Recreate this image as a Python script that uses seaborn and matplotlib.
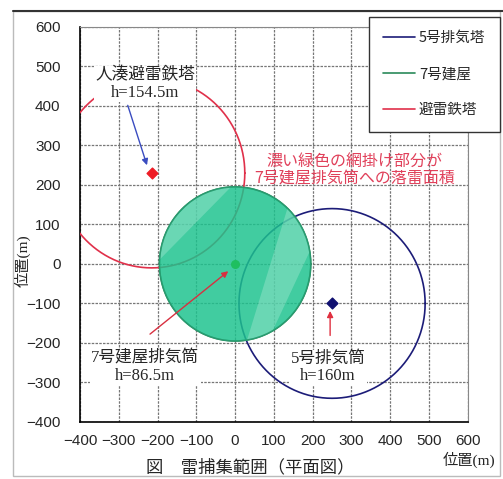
import numpy as np
import pandas as pd
import matplotlib
matplotlib.use("Agg")
import matplotlib.pyplot as plt
import seaborn as sns
from matplotlib.patches import Circle, Rectangle
from matplotlib.lines import Line2D

# data
names = ["5号排気塔", "7号建屋", "避雷鉄塔"]
center_x = [250, 0, -215]
center_y = [-100, 0, 230]
radius = [240, 195, 240]
line_colors = ["#1c1c78", "#2a8a5a", "#e0304a"]
marker_shapes = ["D", "o", "D"]
marker_colors = ["#101070", "#1fbf5f", "#ee1c25"]

ticks = [-400, -300, -200, -100, 0, 100, 200, 300, 400, 500, 600]

sns.set_style("white")
plt.rcParams["font.family"] = ["Liberation Sans", "Noto Sans CJK JP"]
serif_jp = ["Liberation Serif", "Noto Sans CJK JP"]
gothic_jp = ["Noto Sans CJK JP", "DejaVu Sans"]

fig = plt.figure(figsize=(5.03, 4.79), dpi=100)
ax = fig.add_axes([0.159, 0.119, 0.771, 0.825])

# grid at every tick
for t in ticks:
    ax.axvline(t, color="#777777", linestyle=(0, (2, 1)), linewidth=0.9, zorder=1)
    ax.axhline(t, color="#777777", linestyle=(0, (2, 1)), linewidth=0.9, zorder=1)

# outline of each capture range
rows = []
theta = np.linspace(0, 2 * np.pi, 361)
for n, cx, cy, r in zip(names, center_x, center_y, radius):
    for t in theta:
        rows.append({"x": cx + r * np.cos(t), "y": cy + r * np.sin(t), "name": n})
df = pd.DataFrame(rows)

sns.lineplot(data=df, x="x", y="y", hue="name", hue_order=names,
             palette=dict(zip(names, line_colors)), sort=False, estimator=None,
             lw=1.2, ax=ax, legend=False, zorder=3)

# green filled area for 7号建屋, laid over the outlines
g = names.index("7号建屋")
disk = Circle((center_x[g], center_y[g]), radius[g], facecolor="#1dc38e",
              alpha=0.84, edgecolor="none", zorder=4)
ax.add_patch(disk)
ax.add_patch(Circle((center_x[g], center_y[g]), radius[g], facecolor="none",
                    edgecolor="#2a9a70", lw=1.0, zorder=4.2))
# lighter stripes inside the green disk
xs = np.linspace(-250, 250, 50)
s1 = ax.fill_between(xs, xs + 208, xs + 275, color="white", alpha=0.22, lw=0, zorder=4.1)
s1.set_clip_path(disk)
ys = np.linspace(-250, 250, 50)
s2 = ax.fill_betweenx(ys, 30 + (ys + 190) / 3.2, 85 + (ys + 190) / 2.1,
                      color="white", alpha=0.22, lw=0, zorder=4.1)
s2.set_clip_path(disk)

for cx, cy, m, c in zip(center_x, center_y, marker_shapes, marker_colors):
    ax.scatter([cx], [cy], marker=m, s=30, color=c, edgecolor=c, zorder=5)

ax.set_xlim(-400, 600)
ax.set_ylim(-400, 600)
ax.set_xticks(ticks)
ax.set_yticks(ticks)
ax.set_xticklabels([str(t).replace("-", "\u2212") for t in ticks], fontsize=11)
ax.set_yticklabels([str(t).replace("-", "\u2212") for t in ticks], fontsize=11)
ax.tick_params(axis="both", length=0)
ax.tick_params(axis="x", pad=9)
ax.tick_params(axis="y", pad=14)
for s in ["left", "bottom"]:
    ax.spines[s].set_color("black")
    ax.spines[s].set_linewidth(1.2)
for s in ["top", "right"]:
    ax.spines[s].set_color("#888888")
    ax.spines[s].set_linewidth(0.8)
ax.set_xlabel("")
ax.set_ylabel("")

# annotations
box = dict(facecolor="white", edgecolor="none", pad=1)
ax.text(-232, 455, "人湊避雷鉄塔\nh=154.5m", ha="center", va="center", fontsize=12,
        family=serif_jp, linespacing=1.1, bbox=box, zorder=6)
ax.annotate("", xy=(-225, 243), xytext=(-279, 408),
            arrowprops=dict(arrowstyle="-|>", color="#3a4cc0", lw=1.0,
                            mutation_scale=9), zorder=6)
ax.text(-232, -262, "7号建屋排気筒\nh=86.5m", ha="center", va="center", fontsize=12,
        family=serif_jp, linespacing=1.1, bbox=box, zorder=6)
ax.annotate("", xy=(-12, -14), xytext=(-225, -182),
            arrowprops=dict(arrowstyle="-|>", color="#d83040", lw=1.0,
                            mutation_scale=9), zorder=6)
ax.text(240, -262, "5号排気筒\nh=160m", ha="center", va="center", fontsize=12,
        family=serif_jp, linespacing=1.1, bbox=box, zorder=6)
ax.annotate("", xy=(245, -112), xytext=(245, -188),
            arrowprops=dict(arrowstyle="-|>", color="#e03040", lw=1.0,
                            mutation_scale=9), zorder=6)
ax.text(308, 236, "濃い緑色の網掛け部分が\n7号建屋排気筒への落雷面積", ha="center",
        va="center", fontsize=11.5, family=gothic_jp, color="#e0405a",
        linespacing=1.05, zorder=6)

# axis labels and caption
fig.text(0.044, 0.455, "位置(m)", rotation=90, ha="center", va="center",
         fontsize=11, family=serif_jp)
fig.text(0.985, 0.04, "位置(m)", ha="right", va="center", fontsize=11,
         family=serif_jp)
fig.text(0.497, 0.023, "図　雷捕集範囲（平面図）", ha="center", va="center",
         fontsize=12.5, family=serif_jp)

# legend
handles = [Line2D([0], [0], color=c, lw=1.2) for c in line_colors]
leg = fig.legend(handles, names, loc="upper right", bbox_to_anchor=(0.994, 0.965),
                 prop={"family": gothic_jp, "size": 10.5}, frameon=True, fancybox=False,
                 edgecolor="#333333", framealpha=1, handlelength=2.2,
                 handletextpad=0.25, labelspacing=1.5, borderpad=1.0,
                 borderaxespad=0)
leg.get_frame().set_linewidth(1.0)

# figure frame
fig.patches.append(Rectangle((0.026, 0.006), 0.968, 0.972, transform=fig.transFigure,
                             fill=False, edgecolor="#bbbbbb", lw=1.0))
fig.lines.append(Line2D([0.026, 1.0], [0.978, 0.978], transform=fig.transFigure,
                        color="#333333", lw=1.5))

fig.savefig("out.png", dpi=100)
